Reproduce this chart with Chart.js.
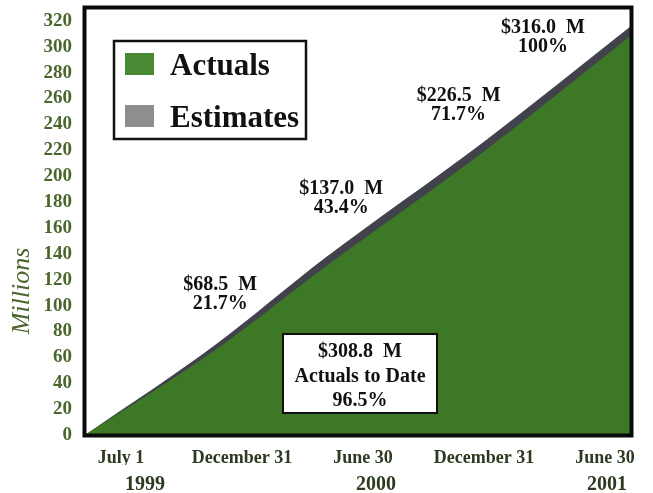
<!DOCTYPE html>
<html>
<head>
<meta charset="utf-8">
<script src="https://cdn.jsdelivr.net/npm/chart.js@4/dist/chart.umd.min.js"></script>
<style>
  html, body { margin: 0; padding: 0; background: #fff; }
  #wrap { width: 653px; height: 493px; }
</style>
</head>
<body>
<div id="wrap"><canvas id="costChart" width="653" height="493"></canvas></div>
<script>
// ---- Data ----
const periodLabels = ['July 1', 'December 31', 'June 30', 'December 31', 'June 30'];
const yearLabels = ['1999', '2000', '2001'];
const periodIndex = [0, 1, 2, 3, 4];
// where each cumulative total sits along the time line (half-year units, as drawn)
const periodPos = [0, 0.94, 1.76, 2.92, 4];
const estimates = [0, 68.5, 137.0, 226.5, 316.0];
const actuals = [0, 64.5, 130.0, 219.0, 308.8];
const estimatePct = ['', '21.7%', '43.4%', '71.7%', '100%'];
const actualToDate = 308.8;
const actualToDatePct = '96.5%';

const SERIF = '"Liberation Serif", "DejaVu Serif", serif';
const GREEN_TEXT = '#49672c';

function money(v) {
  return '$' + v.toFixed(1) + '  M';
}

// ---- Plugins ----
// heavy black frame round the plot
const framePlugin = {
  id: 'frame',
  afterDatasetsDraw(chart) {
    const a = chart.chartArea;
    const ctx = chart.ctx;
    ctx.save();
    ctx.strokeStyle = '#0a0a0a';
    ctx.lineWidth = 4;
    ctx.strokeRect(a.left - 0.5, a.top - 0.5, a.right - a.left + 1, a.bottom - a.top + 1);
    ctx.restore();
  }
};

// label offsets from each estimate point (px)
const labelOffsets = [null, [7, -62], [16, -69], [-25, -46], [-88, 2]];

const notesPlugin = {
  id: 'notes',
  afterDraw(chart) {
    const ctx = chart.ctx;
    const xs = chart.scales.x, ys = chart.scales.y;
    const a = chart.chartArea;
    ctx.save();
    ctx.textAlign = 'center';
    ctx.textBaseline = 'middle';
    ctx.fillStyle = '#111';
    ctx.font = 'bold 20px ' + SERIF;
    for (let i = 1; i < estimates.length; i++) {
      const px = xs.getPixelForValue(periodPos[i]) + labelOffsets[i][0];
      const py = ys.getPixelForValue(estimates[i]) + labelOffsets[i][1];
      ctx.fillText(money(estimates[i]), px, py);
      ctx.fillText(estimatePct[i], px, py + 19);
    }

    // actuals to date box
    const bx = a.left + 198, by = a.top + 326, bw = 154, bh = 79;
    ctx.fillStyle = '#fff';
    ctx.fillRect(bx, by, bw, bh);
    ctx.strokeStyle = '#111';
    ctx.lineWidth = 2;
    ctx.strokeRect(bx, by, bw, bh);
    ctx.fillStyle = '#111';
    ctx.fillText(money(actualToDate), bx + bw / 2, by + 18);
    ctx.fillText('Actuals to Date', bx + bw / 2, by + 43);
    ctx.fillText(actualToDatePct, bx + bw / 2, by + 67);

    // legend box
    const lx = a.left + 29, ly = a.top + 33, lw = 192, lh = 98;
    ctx.fillStyle = '#fff';
    ctx.fillRect(lx, ly, lw, lh);
    ctx.lineWidth = 2.5;
    ctx.strokeRect(lx, ly, lw, lh);
    ctx.textAlign = 'left';
    ctx.textBaseline = 'alphabetic';
    ctx.font = 'bold 31px ' + SERIF;
    const items = [chart.data.datasets[0], chart.data.datasets[1]];
    items.forEach((ds, k) => {
      const top = ly + 12 + k * 52;
      ctx.fillStyle = ds.legendColor;
      ctx.fillRect(lx + 11, top, 29, 22);
      ctx.fillStyle = '#111';
      ctx.fillText(ds.label, lx + 56, top + 22);
    });

    // axis title, set low beside the scale
    ctx.translate(22, a.top + 283);
    ctx.rotate(-Math.PI / 2);
    ctx.textAlign = 'center';
    ctx.textBaseline = 'middle';
    ctx.fillStyle = GREEN_TEXT;
    ctx.font = 'italic 26px ' + SERIF;
    ctx.fillText('Millions', 0, 0);
    ctx.restore();
  }
};

// ---- Chart ----
const noPad = s => { s.paddingTop = 0; s.paddingBottom = 0; s.paddingLeft = 0; s.paddingRight = 0; };

const ctx = document.getElementById('costChart').getContext('2d');
new Chart(ctx, {
  type: 'line',
  data: {
    datasets: [
      {
        label: 'Actuals',
        data: periodPos.map((x, i) => ({ x, y: actuals[i] })),
        backgroundColor: '#3d7826',
        legendColor: '#4a8a35',
        borderWidth: 0,
        pointRadius: 0,
        cubicInterpolationMode: 'monotone',
        fill: 'origin',
        order: 1
      },
      {
        label: 'Estimates',
        data: periodPos.map((x, i) => ({ x, y: estimates[i] })),
        backgroundColor: '#41424b',
        legendColor: '#8e8e8e',
        borderWidth: 0,
        pointRadius: 0,
        cubicInterpolationMode: 'monotone',
        fill: 'origin',
        order: 2
      }
    ]
  },
  options: {
    responsive: false,
    animation: false,
    layout: { padding: { left: 0, top: 8, right: 22, bottom: 0 } },
    plugins: {
      legend: { display: false },
      tooltip: { enabled: false }
    },
    scales: {
      x: { type: 'linear', min: 0, max: 4, display: false },
      xt: {
        type: 'linear', position: 'bottom', weight: 0,
        min: -0.2975, max: 4.215,
        grid: { display: false, drawTicks: false },
        border: { display: false },
        afterBuildTicks: s => { s.ticks = periodIndex.map(v => ({ value: v })); },
        afterFit: s => { s.height = 30; noPad(s); },
        ticks: {
          autoSkip: false, maxRotation: 0, padding: 13,
          color: '#2c3a20',
          font: { family: SERIF, weight: 'bold', size: 18 },
          callback: v => periodLabels[v]
        }
      },
      xy: {
        type: 'linear', position: 'bottom', weight: 1,
        min: -0.519, max: 4.208,
        grid: { display: false, drawTicks: false },
        border: { display: false },
        afterBuildTicks: s => { s.ticks = [0, 2, 4].map(v => ({ value: v })); },
        afterFit: s => { s.height = 28; noPad(s); },
        ticks: {
          autoSkip: false, maxRotation: 0, padding: 8,
          color: '#2c3a20',
          font: { family: SERIF, weight: 'bold', size: 20 },
          callback: v => yearLabels[v / 2]
        }
      },
      y: {
        min: 0, max: 330,
        grid: { display: false, drawTicks: false },
        border: { display: false },
        afterFit: s => { s.width = 85; noPad(s); },
        ticks: {
          stepSize: 20, includeBounds: false, padding: 13,
          color: GREEN_TEXT,
          font: { family: SERIF, weight: 'bold', size: 19 }
        }
      }
    }
  },
  plugins: [framePlugin, notesPlugin]
});
</script>
</body>
</html>
